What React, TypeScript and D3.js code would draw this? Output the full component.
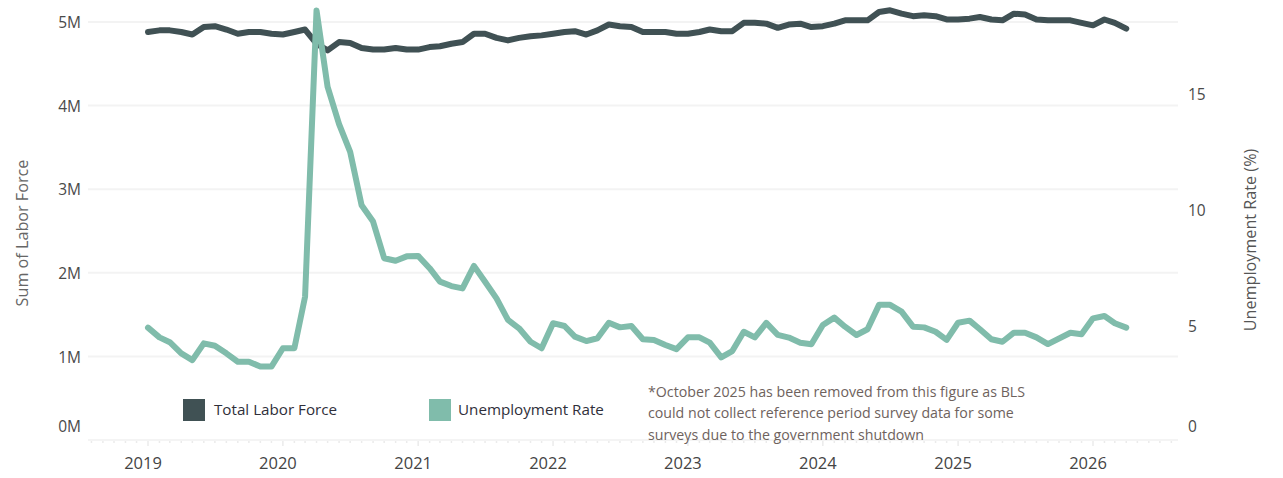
import React from "react";
import * as d3 from "d3";

// Monthly categories (Oct 2025 removed)
const months: string[] = [
  "2019-01","2019-02","2019-03","2019-04","2019-05","2019-06","2019-07","2019-08","2019-09","2019-10","2019-11","2019-12",
  "2020-01","2020-02","2020-03","2020-04","2020-05","2020-06","2020-07","2020-08","2020-09","2020-10","2020-11","2020-12",
  "2021-01","2021-02","2021-03","2021-04","2021-05","2021-06","2021-07","2021-08","2021-09","2021-10","2021-11","2021-12",
  "2022-01","2022-02","2022-03","2022-04","2022-05","2022-06","2022-07","2022-08","2022-09","2022-10","2022-11","2022-12",
  "2023-01","2023-02","2023-03","2023-04","2023-05","2023-06","2023-07","2023-08","2023-09","2023-10","2023-11","2023-12",
  "2024-01","2024-02","2024-03","2024-04","2024-05","2024-06","2024-07","2024-08","2024-09","2024-10","2024-11","2024-12",
  "2025-01","2025-02","2025-03","2025-04","2025-05","2025-06","2025-07","2025-08","2025-09","2025-11","2025-12",
  "2026-01","2026-02","2026-03","2026-04",
];

// Total labor force, millions
const laborForce: number[] = [
  4.88,4.90,4.90,4.88,4.85,4.94,4.95,4.91,4.86,4.88,4.88,4.86,
  4.85,4.88,4.91,4.74,4.66,4.76,4.75,4.69,4.67,4.67,4.69,4.67,
  4.67,4.70,4.71,4.74,4.76,4.86,4.86,4.81,4.78,4.81,4.83,4.84,
  4.86,4.88,4.89,4.85,4.90,4.97,4.95,4.94,4.88,4.88,4.88,4.86,
  4.86,4.88,4.91,4.89,4.89,4.99,4.99,4.98,4.93,4.97,4.98,4.94,
  4.95,4.98,5.02,5.02,5.02,5.12,5.14,5.10,5.07,5.08,5.07,5.03,
  5.03,5.04,5.06,5.03,5.02,5.10,5.09,5.03,5.02,5.02,4.99,
  4.96,5.03,4.99,4.92,
];

// Unemployment rate, %
const unemployment: number[] = [
  4.93,4.51,4.30,3.82,3.53,4.25,4.15,3.82,3.46,3.46,3.25,3.25,
  4.04,4.04,6.26,18.6,15.3,13.7,12.5,10.2,9.5,7.92,7.81,8.0,
  8.02,7.49,6.91,6.72,6.62,7.59,6.91,6.19,5.26,4.90,4.32,4.04,
  5.12,5.00,4.54,4.35,4.47,5.14,4.94,5.0,4.43,4.40,4.18,4.00,
  4.51,4.51,4.28,3.65,3.92,4.75,4.51,5.13,4.62,4.50,4.28,4.21,
  5.04,5.36,4.97,4.61,4.86,5.91,5.91,5.62,4.97,4.94,4.75,4.40,
  5.14,5.23,4.86,4.43,4.32,4.71,4.71,4.51,4.22,4.71,4.64,
  5.33,5.43,5.12,4.93,
];

const yearTicks: string[] = ["2019","2020","2021","2022","2023","2024","2025","2026"];
const leftTicks: number[] = [0, 1, 2, 3, 4, 5];
const rightTicks: number[] = [0, 5, 10, 15];
const seriesNames: string[] = ["Total Labor Force", "Unemployment Rate"];
const noteLines: string[] = [
  "*October 2025 has been removed from this figure as BLS",
  "could not collect reference period survey data for some",
  "surveys due to the government shutdown",
];

const W = 1283;
const H = 478;
const plotLeft = 88;
const plotRight = 1178;
const DARK = "#405154";
const TEAL = "#80bcab";
const FONT = "'Open Sans', 'Noto Sans', sans-serif";

function parseMonth(s: string): Date {
  const [y, m] = s.split("-").map(Number);
  return new Date(Date.UTC(y, m - 1, 1));
}

export default function App() {
  const x = d3
    .scaleUtc()
    .domain([new Date(Date.UTC(2019, 0, 1)), new Date(Date.UTC(2026, 0, 1))])
    .range([148, 1093]);
  const yL = d3.scaleLinear().domain([0, 5]).range([440, 22]);
  const yR = d3.scaleLinear().domain([0, 18.1]).range([442, 22]);

  const dates = months.map(parseMonth);
  const lfLine = d3
    .line<number>()
    .x((_, i) => x(dates[i]))
    .y((d) => yL(d));
  const urLine = d3
    .line<number>()
    .x((_, i) => x(dates[i]))
    .y((d) => yR(d));

  const minor = d3.utcMonth.range(new Date(Date.UTC(2018, 7, 1)), new Date(Date.UTC(2026, 8, 1)));

  return (
    <svg
      width={W}
      height={H}
      style={{ position: "absolute", left: 0, top: 0, background: "#fff" }}
      fontFamily={FONT}
    >
      {leftTicks.slice(1).map((t) => (
        <line key={"g" + t} x1={plotLeft} x2={plotRight} y1={yL(t)} y2={yL(t)} stroke="#f3f3f3" strokeWidth={2} />
      ))}
      <line x1={plotLeft} x2={plotRight} y1={440} y2={440} stroke="#f4f4f4" strokeWidth={2} />
      {minor.map((d, i) => {
        const xx = x(d);
        if (xx < plotLeft || xx > plotRight) return null;
        const isYear = d.getUTCMonth() === 0;
        return (
          <line key={"m" + i} x1={xx} x2={xx} y1={441} y2={isYear ? 446 : 443} stroke="#ebebeb" strokeWidth={1.5} />
        );
      })}

      {leftTicks.map((t) => (
        <text
          key={"l" + t}
          x={81}
          y={t === 0 ? 428 : yL(t) + 2}
          textAnchor="end"
          dominantBaseline="middle"
          fontSize={15.5}
          fill="#4a4a4a"
        >
          {t + "M"}
        </text>
      ))}
      {rightTicks.map((t) => (
        <text
          key={"r" + t}
          x={1188}
          y={t === 0 ? 428 : yR(t) + 2}
          textAnchor="start"
          dominantBaseline="middle"
          fontSize={15.5}
          fill="#4a4a4a"
        >
          {t}
        </text>
      ))}
      <text
        transform={`translate(24,233) rotate(-90)`}
        textAnchor="middle"
        dominantBaseline="middle"
        fontSize={16.2}
        fill="#666"
      >
        Sum of Labor Force
      </text>
      <text
        transform={`translate(1252,240) rotate(-90)`}
        textAnchor="middle"
        dominantBaseline="middle"
        fontSize={16.2}
        fill="#555"
      >
        Unemployment Rate (%)
      </text>

      {yearTicks.map((y) => (
        <text
          key={"y" + y}
          x={x(new Date(Date.UTC(+y, 0, 1))) - 5}
          y={465}
          textAnchor="middle"
          dominantBaseline="middle"
          fontSize={16.5}
          fill="#444"
        >
          {y}
        </text>
      ))}

      <path d={lfLine(laborForce) || ""} fill="none" stroke={DARK} strokeWidth={6} strokeLinejoin="round" strokeLinecap="round" />
      <path d={urLine(unemployment) || ""} fill="none" stroke={TEAL} strokeWidth={6} strokeLinejoin="round" strokeLinecap="round" />

      <rect x={183} y={399} width={22} height={22} fill={DARK} />
      <text x={214} y={411} dominantBaseline="middle" fontSize={15.2} fill="#2f2f3a">
        {seriesNames[0]}
      </text>
      <rect x={429} y={399} width={22} height={22} fill={TEAL} />
      <text x={458} y={411} dominantBaseline="middle" fontSize={15.2} fill="#2f2f3a">
        {seriesNames[1]}
      </text>

      {noteLines.map((l, i) => (
        <text key={"n" + i} x={648} y={393 + i * 21.5} dominantBaseline="middle" fontSize={14.2} fill="#6e625d">
          {l}
        </text>
      ))}
    </svg>
  );
}
